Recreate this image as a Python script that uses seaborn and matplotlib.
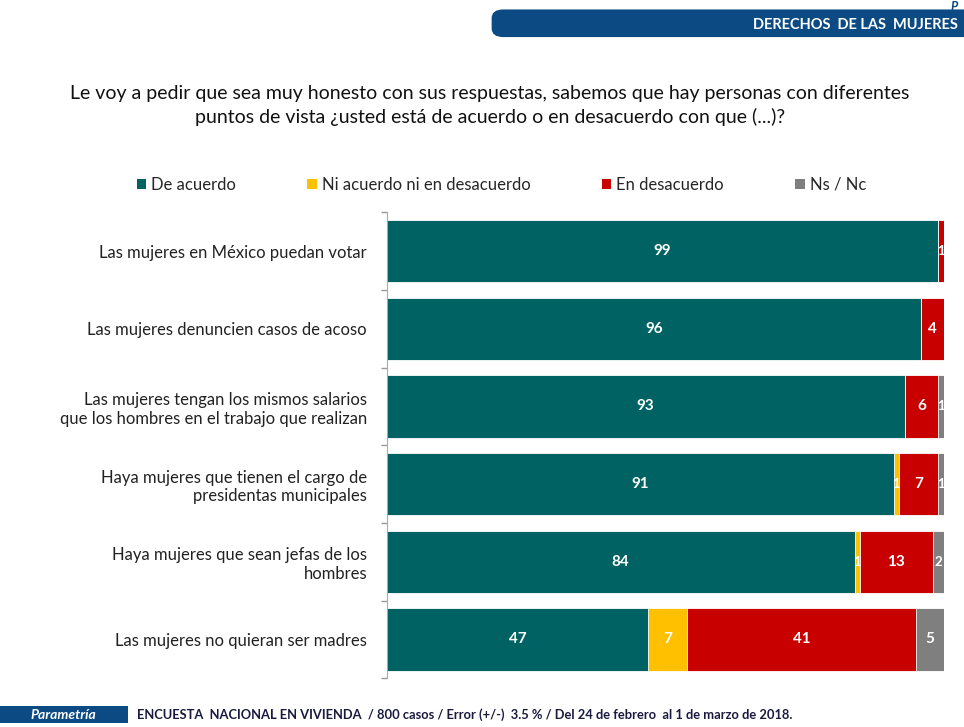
import pandas as pd
import numpy as np
import matplotlib.pyplot as plt
import seaborn as sns
from matplotlib.patches import Patch, FancyBboxPatch, Rectangle

# data
items = ["Las mujeres en México puedan votar",
         "Las mujeres denuncien casos de acoso",
         "Las mujeres tengan los mismos salarios\nque los hombres en el trabajo que realizan",
         "Haya mujeres que tienen el cargo de\npresidentas municipales",
         "Haya mujeres que sean jefas de los\nhombres",
         "Las mujeres no quieran ser madres"]
de_acuerdo = [99, 96, 93, 91, 84, 47]
ni_acuerdo = [0, 0, 0, 1, 1, 7]
en_desacuerdo = [1, 4, 6, 7, 13, 41]
ns_nc = [0, 0, 1, 1, 2, 5]

series = ["De acuerdo", "Ni acuerdo ni en desacuerdo", "En desacuerdo", "Ns / Nc"]
colors = ["#006262", "#FFC000", "#C80000", "#7F7F7F"]

sns.set_style("white")
plt.rcParams['font.family'] = ['Lato', 'DejaVu Sans']

df = pd.DataFrame({"item": items, series[0]: de_acuerdo, series[1]: ni_acuerdo,
                   series[2]: en_desacuerdo, series[3]: ns_nc})
cum = df[series].cumsum(axis=1)

fig = plt.figure(figsize=(9.64, 7.27), dpi=100)
ax = fig.add_axes([0.401, 0.067, 0.578, 0.641])

# stacked bars: draw the cumulative totals from the outside in
for s, c in reversed(list(zip(series, colors))):
    sns.barplot(x=cum[s], y=df["item"], color=c, orient="h", width=0.8,
                saturation=1, edgecolor="white", linewidth=0.6, ax=ax)

ax.set_xlim(0, 100)
ax.set_xlabel("")
ax.set_ylabel("")
ax.set_xticks([])
ax.tick_params(axis="y", length=0, pad=14, labelsize=12, labelcolor="#222222")
# small separators between categories on the axis line
ax.set_yticks(np.arange(-0.5, len(items), 1.0), minor=True)
ax.tick_params(axis="y", which="minor", length=4, width=1, color="#999999", left=True)
for lab in ax.get_yticklabels():
    lab.set_horizontalalignment("right")
for sp in ["top", "right", "bottom"]:
    ax.spines[sp].set_visible(False)
ax.spines["left"].set_color("#AAAAAA")

# value labels
for i in range(len(items)):
    left = 0
    for s in series:
        v = df.loc[i, s]
        if v > 0:
            fs = 11 if v >= 4 else 9.5
            ax.text(left + v / 2, i, str(v), ha="center", va="center",
                    color="white", fontsize=fs, fontweight="bold")
        left += v

# legend
handles = [Patch(facecolor=c, edgecolor="none") for c in colors]
fig.legend(handles, series, loc="center", bbox_to_anchor=(0.52, 0.746), ncol=4,
           frameon=False, fontsize=12, handlelength=0.55, handleheight=0.55,
           handletextpad=0.3, columnspacing=4.3)

# title
fig.text(0.508, 0.872, "Le voy a pedir que sea muy honesto con sus respuestas, sabemos que hay personas con diferentes",
         ha="center", va="center", fontsize=14, color="#111111")
fig.text(0.508, 0.839, "puntos de vista ¿usted está de acuerdo o en desacuerdo con que (...)?",
         ha="center", va="center", fontsize=14, color="#111111")

# header band
fig.patches.append(FancyBboxPatch((0.51, 0.949), 0.51, 0.038,
                                  boxstyle="round,pad=0,rounding_size=0.012",
                                  transform=fig.transFigure, facecolor="#0B4A82",
                                  edgecolor="none"))
fig.text(0.994, 0.966, "DERECHOS  DE LAS  MUJERES", ha="right", va="center",
         fontsize=10.5, fontweight="bold", color="white")
fig.text(0.994, 0.998, "P", ha="right", va="top", fontsize=9, fontweight="bold",
         style="italic", color="#0B4A82")

# footer
fig.patches.append(Rectangle((0.0, 0.005), 0.133, 0.024, transform=fig.transFigure,
                             facecolor="#0B4A82", edgecolor="none"))
fig.text(0.066, 0.017, "Parametría", ha="center", va="center", fontsize=10,
         fontweight="bold", style="italic", color="white")
fig.text(0.142, 0.017,
         "ENCUESTA  NACIONAL EN VIVIENDA  / 800 casos / Error (+/-)  3.5 % / Del 24 de febrero  al 1 de marzo de 2018.",
         ha="left", va="center", fontsize=9.3, fontweight="bold", color="#1A1A40")

fig.savefig("out.png", dpi=100)
